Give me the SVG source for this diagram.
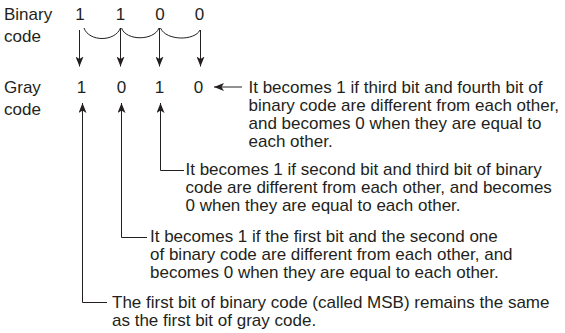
<svg xmlns="http://www.w3.org/2000/svg" width="565" height="333" viewBox="0 0 565 333">
<style>
text{font-family:"Liberation Sans",Arial,sans-serif;font-size:17px;fill:#231f20}
.c{text-anchor:middle}
.ln{fill:none;stroke:#231f20;stroke-width:1}
</style>
<defs>
<marker id="ah" viewBox="0 0 10 8" refX="10" refY="4" markerWidth="10" markerHeight="8" markerUnits="userSpaceOnUse" orient="auto">
<path d="M0,0 L10,4 L0,8 L2.5,4 Z" fill="#231f20"/>
</marker>
</defs>
<rect width="565" height="333" fill="#fff"/>
<g id="binary">
<text x="4" y="20">Binary</text>
<text x="4" y="42">code</text>
<text class="c" x="80" y="20">1</text>
<text class="c" x="120.5" y="20">1</text>
<text class="c" x="160" y="20">0</text>
<text class="c" x="199.5" y="20">0</text>
</g>
<g id="gray">
<text x="4" y="93">Gray</text>
<text x="4" y="115">code</text>
<text class="c" x="81.5" y="93">1</text>
<text class="c" x="121.5" y="93">0</text>
<text class="c" x="159.5" y="93">1</text>
<text class="c" x="198.5" y="93">0</text>
</g>
<g id="note4">
<text x="248.5" y="93">It becomes 1 if third bit and fourth bit of</text>
<text x="248.5" y="111">binary code are different from each other,</text>
<text x="248.5" y="129">and becomes 0 when they are equal to</text>
<text x="248.5" y="147">each other.</text>
</g>
<g id="note3">
<text x="185.5" y="175">It becomes 1 if second bit and third bit of binary</text>
<text x="185.5" y="193">code are different from each other, and becomes</text>
<text x="185.5" y="211">0 when they are equal to each other.</text>
</g>
<g id="note2">
<text x="150" y="242">It becomes 1 if the first bit and the second one</text>
<text x="150" y="260">of binary code are different from each other, and</text>
<text x="150" y="278">becomes 0 when they are equal to each other.</text>
</g>
<g id="note1">
<text x="112" y="308">The first bit of binary code (called MSB) remains the same</text>
<text x="112" y="326">as the first bit of gray code.</text>
</g>
<g id="connectors">
<path class="ln" d="M79.5,30 V66.5" marker-end="url(#ah)"/>
<path class="ln" d="M120.5,28 V66.5" marker-end="url(#ah)"/>
<path class="ln" d="M159.5,28 V66.5" marker-end="url(#ah)"/>
<path class="ln" d="M200.5,30 V66.5" marker-end="url(#ah)"/>
<path class="ln" d="M84,28 C89,42 115,42 120.5,28"/>
<path class="ln" d="M121.5,28 C126,41 154,41 159,28"/>
<path class="ln" d="M160.5,28 C166,41 195,41 200,30"/>
<path class="ln" d="M242,87 H214" marker-end="url(#ah)"/>
<path class="ln" d="M107,302.5 H82.5 V103" marker-end="url(#ah)"/>
<path class="ln" d="M147,237.5 H121.5 V103" marker-end="url(#ah)"/>
<path class="ln" d="M184,170.5 H160.5 V103" marker-end="url(#ah)"/>
</g>
</svg>
